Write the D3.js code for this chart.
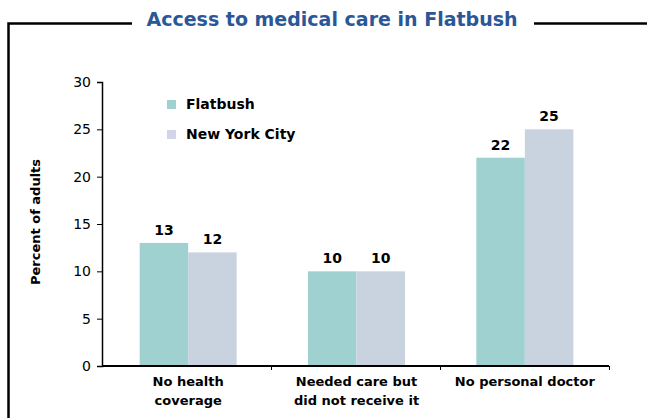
<!DOCTYPE html>
<html>
<head>
<meta charset="utf-8">
<script src="https://cdn.jsdelivr.net/npm/d3@7"></script>
<style>
  body { margin: 0; background: #fff; }
  text { font-family: "DejaVu Sans", sans-serif; }
</style>
</head>
<body>
<div id="chart-area"></div>
<script>
var categories = [["No health", "coverage"], ["Needed care but", "did not receive it"], ["No personal doctor"]];
var seriesNames = ["Flatbush", "New York City"];
var flatbush = [13, 10, 22];
var nyc = [12, 10, 25];
var yTicks = [0, 5, 10, 15, 20, 25, 30];

var colors = ["#a0d1d1", "#c9d3df"];
var legendColors = ["#a0d1d1", "#d3d3ea"];

var svg = d3.select("#chart-area")
	.append("svg")
		.attr("width", 647)
		.attr("height", 418);

	// frame around the chart
svg.append("path")
	.attr("d", "M8.5,418 V23.5 H132 M534,23.5 H647")
	.attr("fill", "none")
	.attr("stroke", "#000")
	.attr("stroke-width", 2.5);

svg.append("text")
	.attr("x", 332)
	.attr("y", 26)
	.attr("text-anchor", "middle")
	.attr("font-size", "19px")
	.attr("font-weight", "bold")
	.attr("fill", "#2b5797")
	.text("Access to medical care in Flatbush");

var margin = {top: 82, left: 102};
var width = 507;
var height = 284;

var g = svg.append("g")
	.attr("transform", "translate(" + margin.left + ", " + margin.top + ")");

var x0 = d3.scaleBand()
	.domain(d3.range(categories.length))
	.range([2, width]);

var x1 = d3.scaleBand()
	.domain(d3.range(seriesNames.length))
	.range([0, 97])
	.padding(0);

var y = d3.scaleLinear()
	.domain([0, 30])
	.range([height, 0]);

	// bars
var groups = g.selectAll("g.group")
	.data(categories)
	.enter()
	.append("g")
		.attr("class", "group")
		.attr("transform", function(d, i){ return "translate(" + (x0(i) + x0.bandwidth() / 2 - 48.5) + ",0)"; });

groups.selectAll("rect")
	.data(function(d, i){ return [flatbush[i], nyc[i]]; })
	.enter()
	.append("rect")
		.attr("x", function(d, j){ return x1(j); })
		.attr("y", function(d){ return y(d); })
		.attr("width", x1.bandwidth())
		.attr("height", function(d){ return height - y(d); })
		.attr("fill", function(d, j){ return colors[j]; });

groups.selectAll("text.value")
	.data(function(d, i){ return [flatbush[i], nyc[i]]; })
	.enter()
	.append("text")
		.attr("class", "value")
		.attr("x", function(d, j){ return x1(j) + x1.bandwidth() / 2; })
		.attr("y", function(d){ return y(d) - 8; })
		.attr("text-anchor", "middle")
		.attr("font-size", "14px")
		.attr("font-weight", "bold")
		.text(function(d){ return d; });

	// Y axis
var yAxisCall = d3.axisLeft(y)
	.tickValues(yTicks)
	.tickSize(5)
	.tickPadding(6);
var yAxis = g.append("g")
	.attr("class", "y axis")
	.call(yAxisCall);
yAxis.select(".domain").attr("stroke", "#000").attr("stroke-width", 1.5);
yAxis.selectAll(".tick line").attr("stroke", "#000");
yAxis.selectAll(".tick text")
	.attr("font-size", "14px")
	.attr("font-family", "DejaVu Sans, sans-serif")
	.attr("fill", "#000");

	// X axis
var xAxisCall = d3.axisBottom(d3.scaleLinear().domain([0, 3]).range([0, width]))
	.tickValues([1, 2, 3])
	.tickSize(4)
	.tickFormat("");
var xAxis = g.append("g")
	.attr("class", "x axis")
	.attr("transform", "translate(0, " + height + ")")
	.call(xAxisCall);
xAxis.select(".domain").attr("stroke", "#000").attr("stroke-width", 2).attr("d", "M0,0H" + width);
xAxis.selectAll(".tick line").attr("stroke", "#000");

	// category labels
var catLabels = g.selectAll("text.cat")
	.data(categories)
	.enter()
	.append("text")
		.attr("class", "cat")
		.attr("x", function(d, i){ return x0(i) + x0.bandwidth() / 2; })
		.attr("y", height + 20)
		.attr("text-anchor", "middle")
		.attr("font-size", "13px")
		.attr("font-weight", "bold");

catLabels.selectAll("tspan")
	.data(function(d){ return d; })
	.enter()
	.append("tspan")
		.attr("x", function(){ return this.parentNode.getAttribute("x"); })
		.attr("dy", function(d, i){ return i === 0 ? 0 : 19; })
		.text(function(d){ return d; });

	// Y label
g.append("text")
	.attr("x", -(height / 2) + 2)
	.attr("y", -62)
	.attr("transform", "rotate(-90)")
	.attr("text-anchor", "middle")
	.attr("font-size", "13px")
	.attr("font-weight", "bold")
	.text("Percent of adults");

	// legend
var legend = svg.selectAll("g.legend")
	.data(seriesNames)
	.enter()
	.append("g")
		.attr("class", "legend")
		.attr("transform", function(d, i){ return "translate(167," + (100 + i * 30) + ")"; });

legend.append("rect")
	.attr("width", 9)
	.attr("height", 9)
	.attr("fill", function(d, i){ return legendColors[i]; });

legend.append("text")
	.attr("x", 19)
	.attr("y", 9)
	.attr("font-size", "14px")
	.attr("font-weight", "bold")
	.text(function(d){ return d; });
</script>
</body>
</html>
